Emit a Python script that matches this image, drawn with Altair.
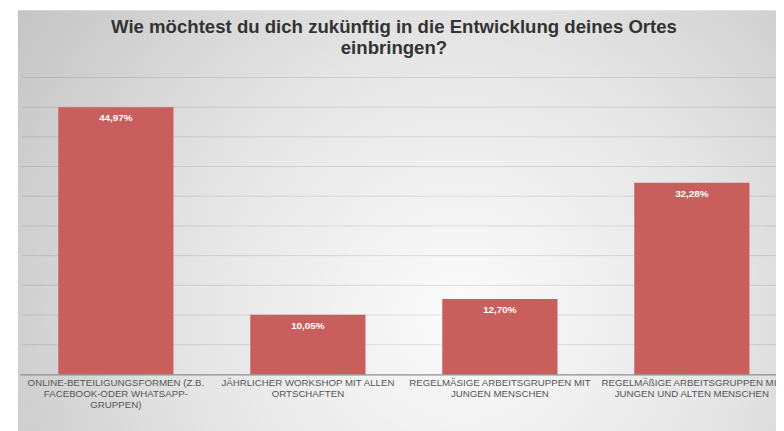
import altair as alt
import pandas as pd

title_lines = ["Wie möchtest du dich zukünftig in die Entwicklung deines Ortes", "einbringen?"]
categories = [
    "ONLINE-BETEILIGUNGSFORMEN (Z.B.\nFACEBOOK-ODER WHATSAPP-\nGRUPPEN)",
    "JÄHRLICHER WORKSHOP MIT ALLEN\nORTSCHAFTEN",
    "REGELMÄSIGE ARBEITSGRUPPEN MIT\nJUNGEN MENSCHEN",
    "REGELMÄßIGE ARBEITSGRUPPEN MIT\nJUNGEN UND ALTEN MENSCHEN",
]
values = [44.97, 10.05, 12.70, 32.28]
grid_values = [5, 10, 15, 20, 25, 30, 35, 40, 45, 50]

df = pd.DataFrame({"cat": categories, "value": values})
df["label"] = [f"{v:.2f}%".replace(".", ",") for v in values]
grid_df = pd.DataFrame({"g": grid_values})

FONT = "Liberation Sans"
BAR = "#c85f5d"

bg_gradient = {
    "gradient": "radial",
    "x1": 0.58, "y1": 0.62, "x2": 0.58, "y2": 0.62,
    "r1": 0, "r2": 0.75,
    "stops": [
        {"offset": 0, "color": "#fbfbfb"},
        {"offset": 0.45, "color": "#e6e6e6"},
        {"offset": 1, "color": "#c0c0c0"},
    ],
}

xscale = alt.Scale(range=[0, 776], paddingInner=0.4, paddingOuter=0.2)
yscale = alt.Scale(domain=[0, 50])

background = alt.Chart(alt.Data(values=[{}])).mark_rect(fill=bg_gradient).encode(
    x=alt.value(-2), x2=alt.value(770), y=alt.value(-68), y2=alt.value(360)
)

grid = alt.Chart(grid_df).mark_rule(color="#000000", opacity=0.11, strokeWidth=1).encode(
    y=alt.Y("g:Q", scale=yscale, axis=None),
    x=alt.value(2), x2=alt.value(770),
)

xaxis = alt.Axis(
    title=None, ticks=False, labelAngle=0, labelFont=FONT, labelFontSize=9.8,
    labelColor="#555555", labelLimit=0, labelPadding=3, labelLineHeight=11,
    labelBaseline="top", domainColor="#8c8c8c", domainWidth=1.5, zindex=1,
    labelExpr="split(datum.label, '\\n')",
)

bars = alt.Chart(df).mark_bar(color=BAR).encode(
    x=alt.X("cat:N", sort=categories, scale=xscale, axis=xaxis),
    y=alt.Y("value:Q", scale=yscale, axis=None),
)

text = alt.Chart(df).mark_text(
    color="white", font=FONT, fontWeight="bold", fontSize=10, baseline="top", dy=6
).encode(
    x=alt.X("cat:N", sort=categories, scale=xscale),
    y=alt.Y("value:Q", scale=yscale),
    text="label:N",
)

chart = alt.layer(background, grid, bars, text).properties(
    width=764,
    height=300,
    autosize=alt.AutoSizeParams(type="none"),
    padding={"left": 12, "top": 68, "right": 0, "bottom": 55},
    title=alt.TitleParams(
        title_lines, font=FONT, fontSize=18.8, fontWeight="bold", color="#333333",
        anchor="middle", frame="group", offset=0, lineHeight=21, dx=-4, dy=48,
        zindex=1,
    ),
).configure_view(stroke=None)

chart.save("out.html", embed_options={"renderer": "svg", "actions": False})
